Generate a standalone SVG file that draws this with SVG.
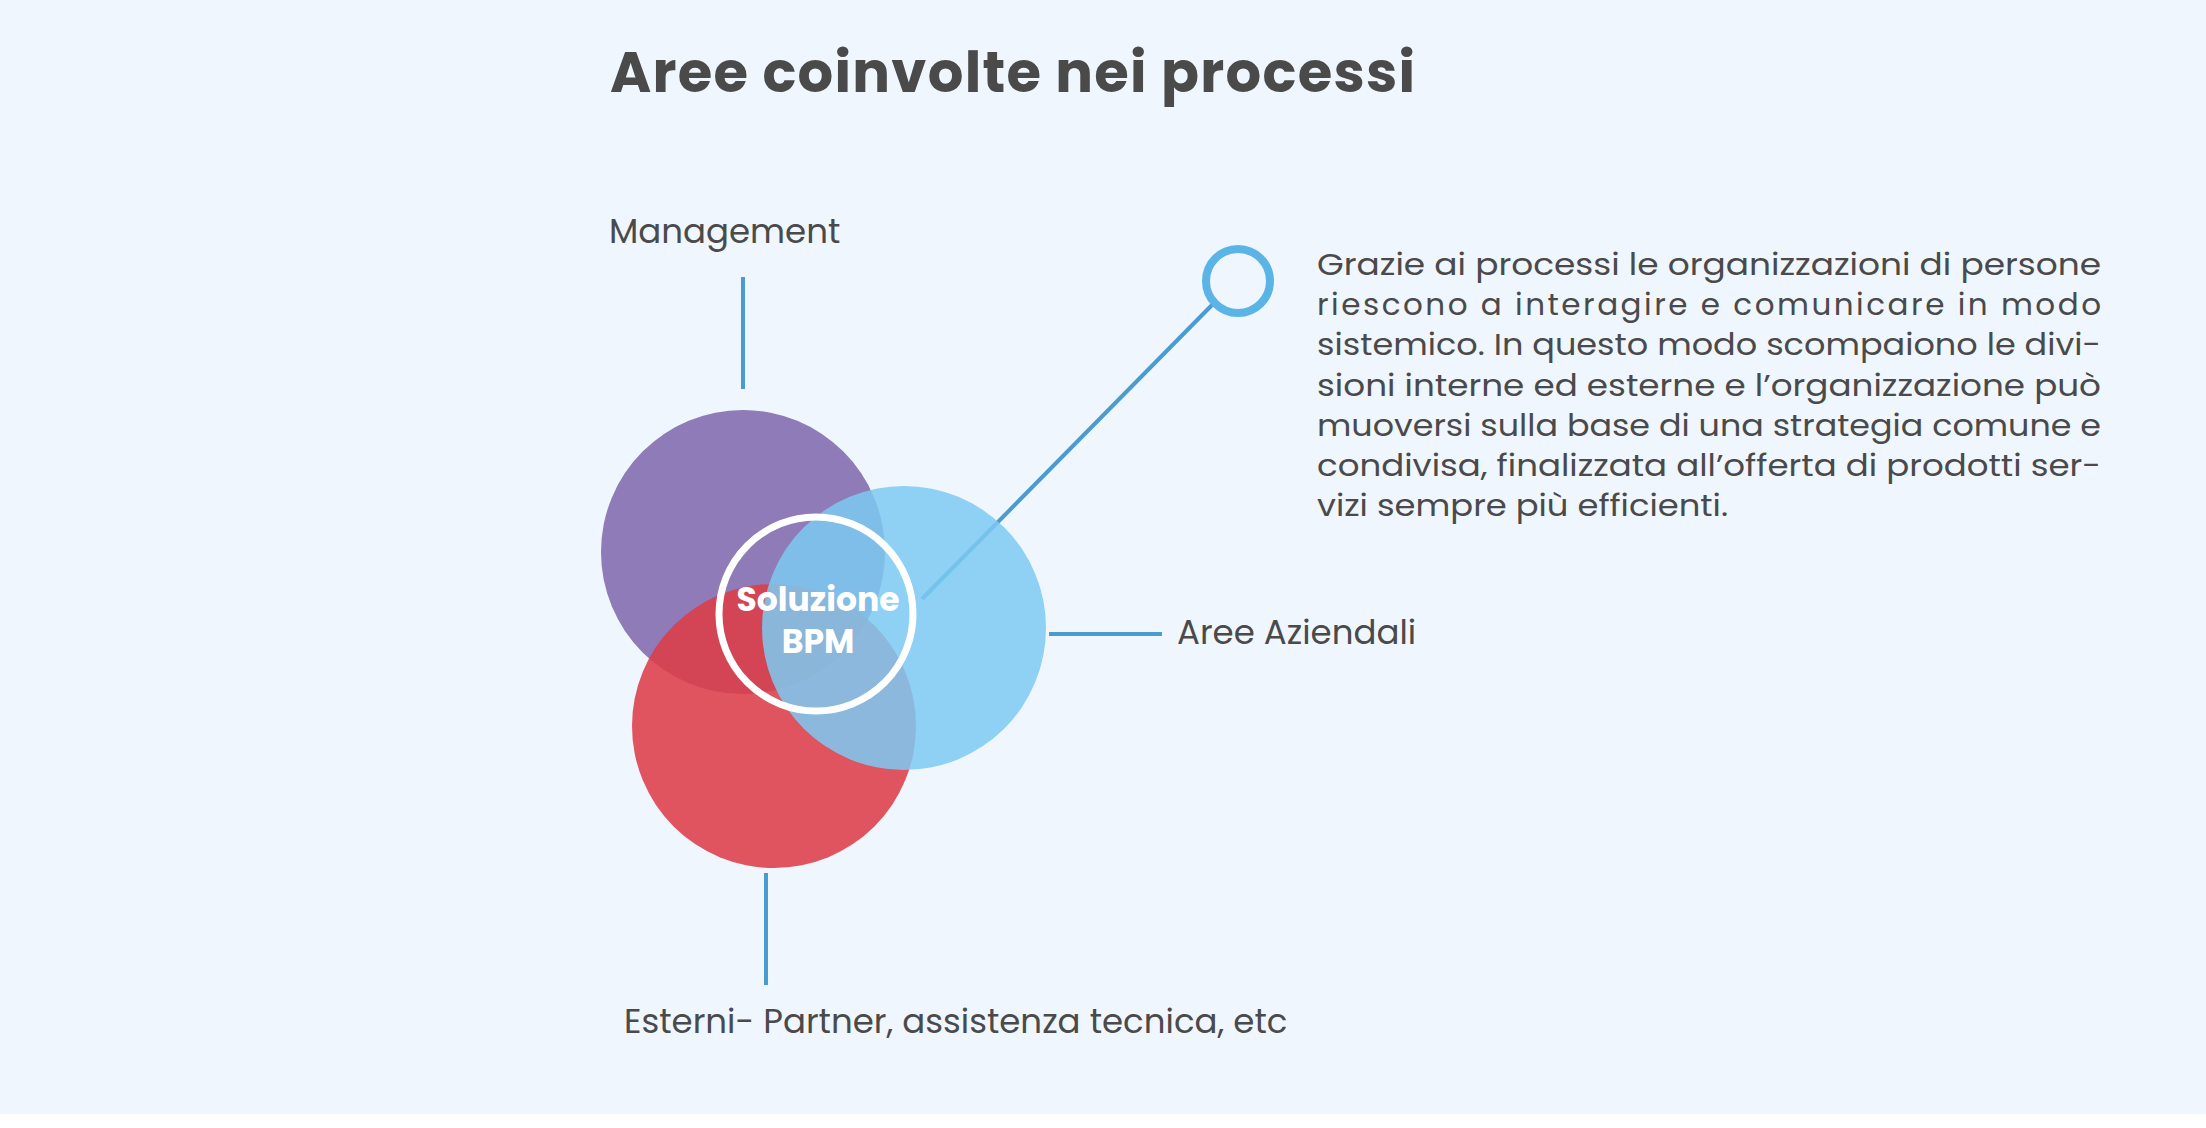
<svg xmlns="http://www.w3.org/2000/svg" width="2206" height="1128" viewBox="0 0 2206 1128">
<style>
.t{font-family:Poppins,"Open Sans","Liberation Sans",sans-serif;fill:#4a4a4a}
.lbl{font-size:34px}
.p{font-size:31px}
.c{stroke:#4a9bd0;stroke-width:4;fill:none}
</style>
<rect width="2206" height="1128" fill="#ffffff"/>
<rect width="2206" height="1114" fill="#eff6fd"/>
<text class="t" x="610" y="92" font-size="56" font-weight="bold" textLength="805">Aree coinvolte nei processi</text>
<g id="connectors">
<line class="c" x1="743" y1="277" x2="743" y2="389"/>
<line class="c" x1="1049" y1="634" x2="1162" y2="634"/>
<line class="c" x1="766" y1="873" x2="766" y2="985"/>
<line class="c" x1="1212" y1="305" x2="922" y2="599"/>
</g>
<g id="management"><circle cx="743" cy="552" r="142" fill="#8e7bb7"/><text class="t lbl" x="609" y="243">Management</text></g>
<g id="esterni"><circle cx="774" cy="726" r="142" fill="#dd3e48" opacity="0.88"/><text class="t lbl" x="624" y="1033">Esterni- Partner, assistenza tecnica, etc</text></g>
<g id="aree"><circle cx="904" cy="628" r="142" fill="#7ccaf2" opacity="0.85"/><text class="t lbl" x="1177" y="644">Aree Aziendali</text></g>
<g id="bpm"><circle cx="816" cy="614" r="97" fill="none" stroke="#ffffff" stroke-width="7"/>
<text x="818" y="611" font-family="Poppins,'Open Sans','Liberation Sans',sans-serif" font-size="33" font-weight="bold" fill="#ffffff" text-anchor="middle">Soluzione</text>
<text x="818" y="653" font-family="Poppins,'Open Sans','Liberation Sans',sans-serif" font-size="33" font-weight="bold" fill="#ffffff" text-anchor="middle">BPM</text></g>
<g id="info"><circle cx="1238" cy="281" r="32" fill="none" stroke="#5ab4e6" stroke-width="8"/>
<text class="t p" x="1317" y="275" textLength="784" lengthAdjust="spacingAndGlyphs">Grazie ai processi le organizzazioni di persone</text>
<text class="t p" x="1317" y="315" textLength="784" lengthAdjust="spacing">riescono a interagire e comunicare in modo</text>
<text class="t p" x="1317" y="355" textLength="784" lengthAdjust="spacingAndGlyphs">sistemico. In questo modo scompaiono le divi-</text>
<text class="t p" x="1317" y="396" textLength="784" lengthAdjust="spacingAndGlyphs">sioni interne ed esterne e l’organizzazione può</text>
<text class="t p" x="1317" y="436" textLength="784" lengthAdjust="spacingAndGlyphs">muoversi sulla base di una strategia comune e</text>
<text class="t p" x="1317" y="476" textLength="784" lengthAdjust="spacingAndGlyphs">condivisa, finalizzata all’offerta di prodotti ser-</text>
<text class="t p" x="1317" y="516" textLength="411" lengthAdjust="spacingAndGlyphs">vizi sempre più efficienti.</text></g>
</svg>
